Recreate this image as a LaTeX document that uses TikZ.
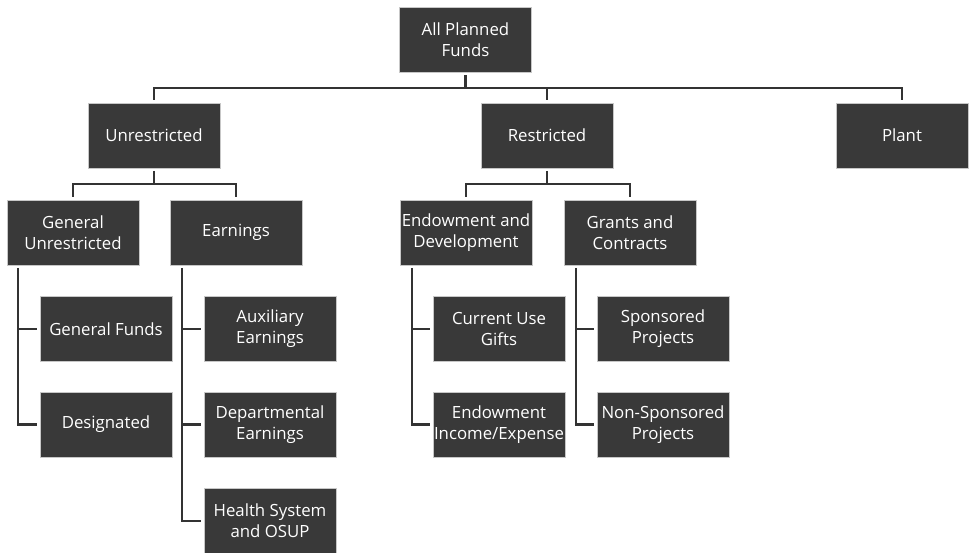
\documentclass[tikz,border=0pt]{standalone}
\usepackage{fontspec}
\setmainfont{Open Sans}
\usepackage{xcolor}
\usepackage{tikz}
\definecolor{boxgray}{HTML}{393939}
\definecolor{linegray}{HTML}{333333}

\begin{document}
\begin{tikzpicture}[x=1pt, y=-1pt,
  box/.style={rectangle, fill=boxgray, draw=black!22, line width=0.6pt,
    minimum width=132pt, minimum height=65pt, inner sep=0pt, outer sep=3pt,
    text=white, align=center, font=\fontsize{16.8}{21}\selectfont},
  link/.style={draw=linegray, line width=2.8pt}]
  \useasboundingbox (0,0) rectangle (969,553);
  % top level and first split
  \node[box] (root)  at (465.5,40)  {All Planned\\Funds};
  \node[box] (unres) at (154,135.5) {Unrestricted};
  \node[box] (restr) at (547,135.5) {Restricted};
  \node[box] (plant) at (902,135.5) {Plant};
  % second level
  \node[box] (genun)  at (73,232.5)  {General\\Unrestricted};
  \node[box] (earn)   at (236,232.5) {Earnings};
  \node[box] (endow)  at (466,232.5) {Endowment and\\Development};
  \node[box] (grants) at (630,232.5) {Grants and\\Contracts};
  % leaves
  \node[box] (genfunds) at (106,329)   {General Funds};
  \node[box] (desig)    at (106,424.5) {Designated};
  \node[box] (aux)      at (270,329)   {Auxiliary\\Earnings};
  \node[box] (dept)     at (270,424.5) {Departmental\\Earnings};
  \node[box] (health)   at (270,521)   {Health System\\and OSUP};
  \node[box] (curgift)  at (499,329)   {Current Use\\Gifts};
  \node[box] (endinc)   at (499,424.5) {Endowment\\Income/Expense};
  \node[box] (spons)    at (663,329)   {Sponsored\\Projects};
  \node[box] (nonspons) at (663,424.5) {Non-Sponsored\\Projects};
  % brackets
  \coordinate (topbar) at (465.5,88);
  \coordinate (unbar) at (154,184);
  \coordinate (rebar) at (547,184);
  \draw[link] (root.south) -- (topbar);
  \draw[link] (unres.north) |- (topbar) -| (plant.north);
  \draw[link] (restr.north) -- (restr.north |- topbar);
  \draw[link] (unres.south) -- (unbar);
  \draw[link] (genun.north) |- (unbar) -| (earn.north);
  \draw[link] (restr.south) -- (rebar);
  \draw[link] (endow.north) |- (rebar) -| (grants.north);
  % side rails
  \draw[link] ([xshift=14pt]genun.south west) |- (desig.west);
  \draw[link] ([xshift=14pt]genun.south west |- genfunds.west) -- (genfunds.west);
  \draw[link] ([xshift=15pt]earn.south west) |- (health.west);
  \draw[link] ([xshift=15pt]earn.south west |- aux.west) -- (aux.west);
  \draw[link] ([xshift=15pt]earn.south west |- dept.west) -- (dept.west);
  \draw[link] ([xshift=15pt]endow.south west) |- (endinc.west);
  \draw[link] ([xshift=15pt]endow.south west |- curgift.west) -- (curgift.west);
  \draw[link] ([xshift=15pt]grants.south west) |- (nonspons.west);
  \draw[link] ([xshift=15pt]grants.south west |- spons.west) -- (spons.west);
\end{tikzpicture}
\end{document}
